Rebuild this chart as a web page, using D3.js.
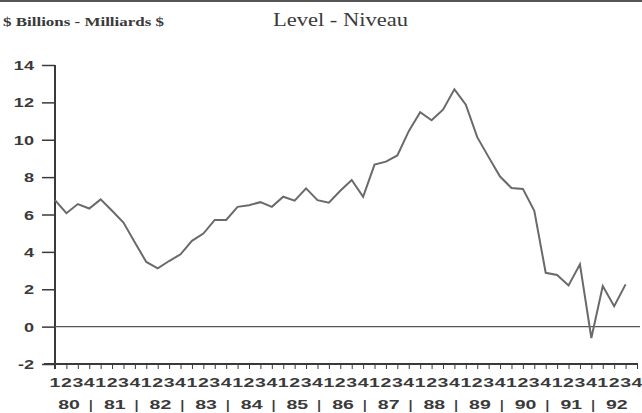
<!DOCTYPE html>
<html>
<head>
<meta charset="utf-8">
<script src="https://cdn.jsdelivr.net/npm/d3@7"></script>
<style>
  body { margin: 0; background: #fff; }
  svg { display: block; }
</style>
</head>
<body>
<div id="chart"></div>
<script>
// quarters 1980Q1 .. 1992Q4, values end at 1992Q3
var years = ["80", "81", "82", "83", "84", "85", "86", "87", "88", "89", "90", "91", "92"];
var quarterLabels = ["1", "2", "3", "4"];
var yTicks = [-2, 0, 2, 4, 6, 8, 10, 12, 14];
var levels = [6.77, 6.07, 6.56, 6.32, 6.81, 6.2, 5.57, 4.5, 3.46, 3.12, 3.51, 3.87,
              4.59, 4.98, 5.71, 5.71, 6.41, 6.5, 6.66, 6.41, 6.95, 6.74, 7.4, 6.77,
              6.63, 7.27, 7.85, 6.95, 8.67, 8.83, 9.16, 10.46, 11.47, 11.04, 11.61, 12.7,
              11.88, 10.14, 9.07, 8.03, 7.42, 7.37, 6.2, 2.88, 2.76, 2.2, 3.33, -0.61,
              2.17, 1.09, 2.26];

var quarters = [];
years.forEach(function(y) {
    quarterLabels.forEach(function(q) { quarters.push(y + "Q" + q); });
});

var W = 642, H = 413;
var ink = "#3a3a3a";
var sans = "Liberation Sans, Arial, sans-serif";

var svg = d3.select("#chart").append("svg")
    .attr("width", W)
    .attr("height", H);

// top rule
svg.append("line")
    .attr("x1", 0).attr("x2", W).attr("y1", 1).attr("y2", 1)
    .attr("stroke", "#555").attr("stroke-width", 2);

svg.append("text")
    .attr("x", 3).attr("y", 26)
    .attr("font-family", "Liberation Serif, serif")
    .attr("font-weight", "bold")
    .attr("font-size", 12)
    .attr("fill", ink)
    .attr("textLength", 161)
    .attr("lengthAdjust", "spacingAndGlyphs")
    .text("$ Billions - Milliards $");

svg.append("text")
    .attr("x", 273).attr("y", 26)
    .attr("font-family", "Liberation Serif, serif")
    .attr("font-size", 18)
    .attr("fill", ink)
    .attr("textLength", 135)
    .attr("lengthAdjust", "spacingAndGlyphs")
    .text("Level - Niveau");

var x = d3.scalePoint().domain(quarters).range([55, 637]);
var y = d3.scaleLinear().domain([-2, 14]).range([364, 65]);

// y axis
var yAxis = svg.append("g").attr("transform", "translate(55,0)")
    .call(d3.axisLeft(y).tickValues(yTicks).tickSize(13).tickFormat(d3.format("d")));
yAxis.select(".domain").remove();
yAxis.selectAll(".tick line").attr("stroke", ink).attr("stroke-width", 1.5);
yAxis.selectAll(".tick text").remove();
yAxis.selectAll(".tick").append("text")
    .attr("transform", "translate(-21,4.5) scale(1.45,1)")
    .attr("text-anchor", "end")
    .attr("font-family", sans)
    .attr("font-weight", "bold")
    .attr("font-size", 12.5)
    .attr("fill", ink)
    .text(function(d) { return d; });

svg.append("line")
    .attr("x1", 55).attr("x2", 55).attr("y1", 65).attr("y2", 369)
    .attr("stroke", ink).attr("stroke-width", 2);

// x axis
var xAxis = svg.append("g").attr("transform", "translate(0,364)")
    .call(d3.axisBottom(x).tickSize(5).tickFormat(""));
xAxis.select(".domain").remove();
xAxis.selectAll(".tick line").attr("stroke", ink).attr("stroke-width", 1);

svg.append("line")
    .attr("x1", 44).attr("x2", 638).attr("y1", 364).attr("y2", 364)
    .attr("stroke", ink).attr("stroke-width", 2);

// quarter digits
svg.append("g").selectAll("text")
    .data(quarters)
    .enter().append("text")
    .attr("transform", function(d) { return "translate(" + x(d) + ",387) scale(1.5,1)"; })
    .attr("text-anchor", "middle")
    .attr("font-family", sans)
    .attr("font-weight", "bold")
    .attr("font-size", 13)
    .attr("fill", ink)
    .text(function(d) { return d.slice(3); });

// year row
var yearG = svg.append("g");
years.forEach(function(yr, k) {
    var cx = (x(yr + "Q1") + x(yr + "Q4")) / 2 - 3;
    yearG.append("text")
        .attr("transform", "translate(" + cx + ",409) scale(1.5,1)")
        .attr("text-anchor", "middle")
        .attr("font-family", sans)
        .attr("font-weight", "bold")
        .attr("font-size", 13)
        .attr("fill", ink)
        .text(yr);
    if (k < years.length - 1) {
        var sx = (x(yr + "Q4") + x(years[k + 1] + "Q1")) / 2 - 4;
        yearG.append("text")
            .attr("x", sx).attr("y", 409)
            .attr("text-anchor", "middle")
            .attr("font-family", sans)
            .attr("font-weight", "bold")
            .attr("font-size", 13)
            .attr("fill", ink)
            .text("|");
    }
});

// zero line
svg.append("line")
    .attr("x1", 55).attr("x2", 640).attr("y1", y(0)).attr("y2", y(0))
    .attr("stroke", "#555").attr("stroke-width", 1.3);

// level line
var line = d3.line()
    .x(function(d, i) { return x(quarters[i]); })
    .y(function(d) { return y(d); });

svg.append("path")
    .datum(levels)
    .attr("d", line)
    .attr("fill", "none")
    .attr("stroke", "#6a6a6a")
    .attr("stroke-width", 2)
    .attr("stroke-linejoin", "miter");
</script>
</body>
</html>
